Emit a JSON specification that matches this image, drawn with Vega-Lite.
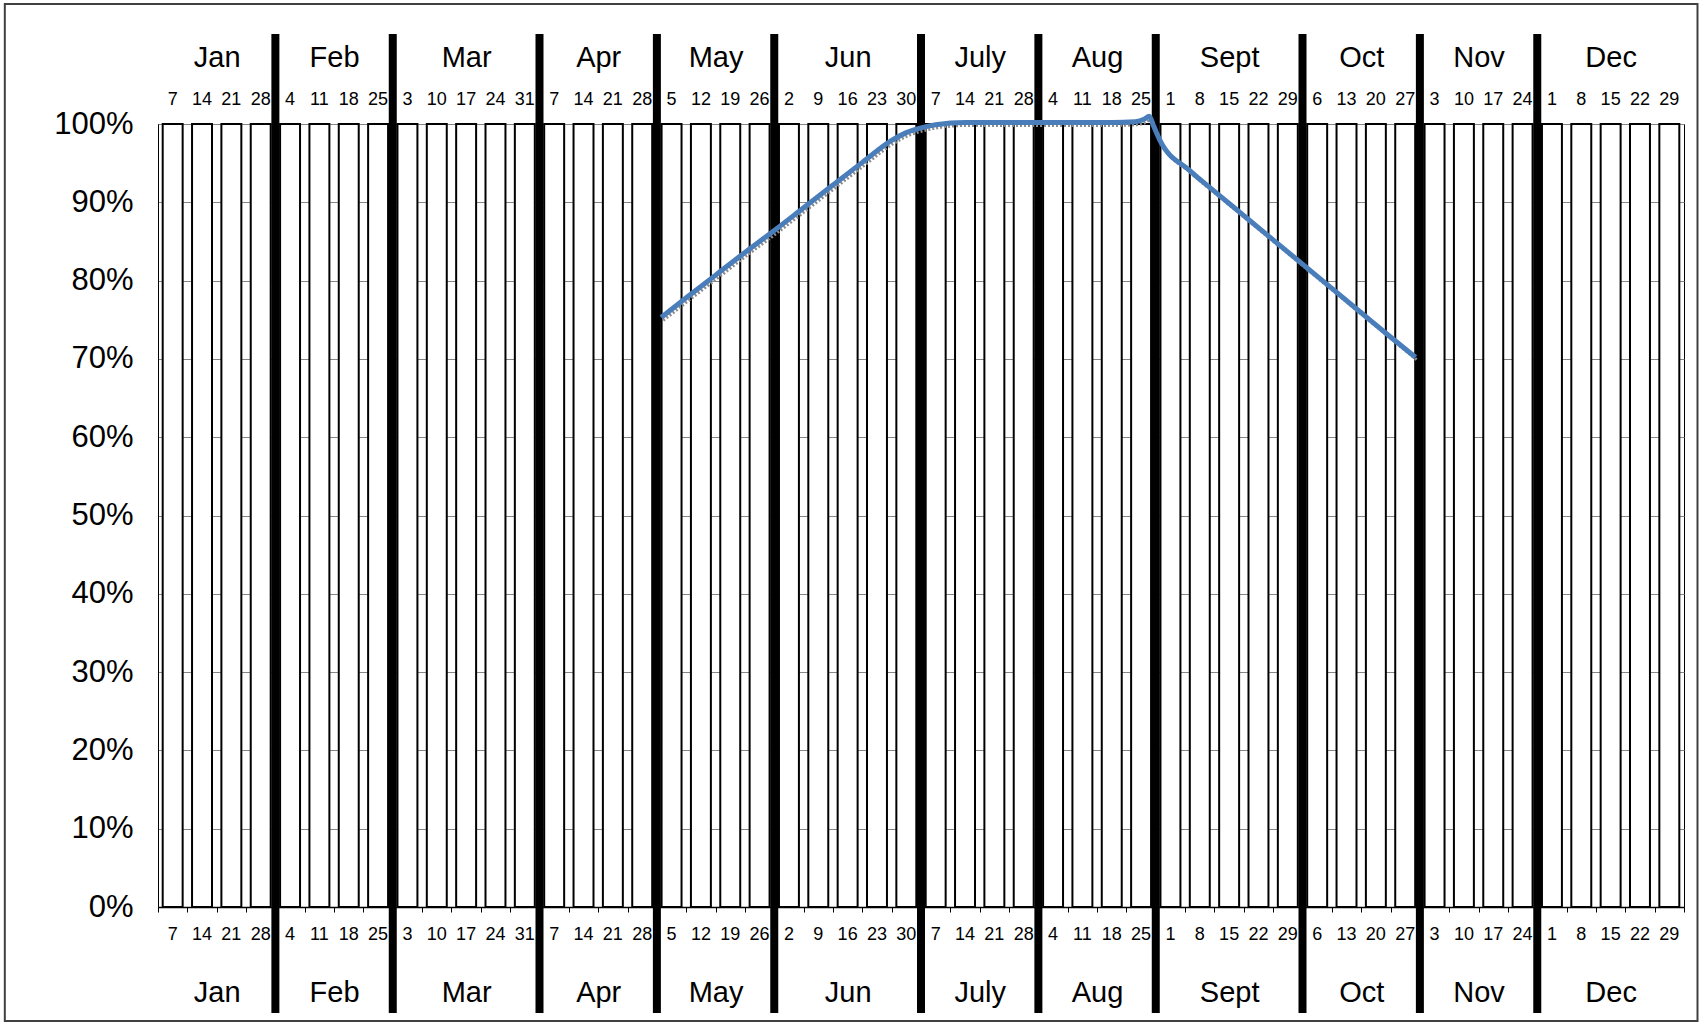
{
  "$schema": "https://vega.github.io/schema/vega-lite/v6.json",
  "width": 1526,
  "height": 783,
  "autosize": {"type": "none"},
  "padding": {"left": 158, "top": 124, "right": 19, "bottom": 118},
  "background": "white",
  "config": {
    "view": {"stroke": "black", "strokeWidth": 1},
    "font": "Liberation Sans",
    "axis": {"labelFont": "Liberation Sans", "labelColor": "black", "labelOverlap": false, "labelFlush": false, "labelBound": false}
  },
  "datasets": {
    "weeks": [
      {"week": "Jan-7", "val": 1}, {"week": "Jan-14", "val": 1}, {"week": "Jan-21", "val": 1}, {"week": "Jan-28", "val": 1},
      {"week": "Feb-4", "val": 1}, {"week": "Feb-11", "val": 1}, {"week": "Feb-18", "val": 1}, {"week": "Feb-25", "val": 1},
      {"week": "Mar-3", "val": 1}, {"week": "Mar-10", "val": 1}, {"week": "Mar-17", "val": 1}, {"week": "Mar-24", "val": 1}, {"week": "Mar-31", "val": 1},
      {"week": "Apr-7", "val": 1}, {"week": "Apr-14", "val": 1}, {"week": "Apr-21", "val": 1}, {"week": "Apr-28", "val": 1},
      {"week": "May-5", "val": 1}, {"week": "May-12", "val": 1}, {"week": "May-19", "val": 1}, {"week": "May-26", "val": 1},
      {"week": "Jun-2", "val": 1}, {"week": "Jun-9", "val": 1}, {"week": "Jun-16", "val": 1}, {"week": "Jun-23", "val": 1}, {"week": "Jun-30", "val": 1},
      {"week": "Jul-7", "val": 1}, {"week": "Jul-14", "val": 1}, {"week": "Jul-21", "val": 1}, {"week": "Jul-28", "val": 1},
      {"week": "Aug-4", "val": 1}, {"week": "Aug-11", "val": 1}, {"week": "Aug-18", "val": 1}, {"week": "Aug-25", "val": 1},
      {"week": "Sep-1", "val": 1}, {"week": "Sep-8", "val": 1}, {"week": "Sep-15", "val": 1}, {"week": "Sep-22", "val": 1}, {"week": "Sep-29", "val": 1},
      {"week": "Oct-6", "val": 1}, {"week": "Oct-13", "val": 1}, {"week": "Oct-20", "val": 1}, {"week": "Oct-27", "val": 1},
      {"week": "Nov-3", "val": 1}, {"week": "Nov-10", "val": 1}, {"week": "Nov-17", "val": 1}, {"week": "Nov-24", "val": 1},
      {"week": "Dec-1", "val": 1}, {"week": "Dec-8", "val": 1}, {"week": "Dec-15", "val": 1}, {"week": "Dec-22", "val": 1}, {"week": "Dec-29", "val": 1}
    ],
    "bounds": [
      {"b": 4}, {"b": 8}, {"b": 13}, {"b": 17}, {"b": 21}, {"b": 26}, {"b": 30}, {"b": 34}, {"b": 39}, {"b": 43}, {"b": 47}
    ],
    "curve": [
      {"w": 17.15, "v": 0.753}, {"w": 18.0, "v": 0.778}, {"w": 19.0, "v": 0.807}, {"w": 20.0, "v": 0.836},
      {"w": 21.0, "v": 0.864}, {"w": 22.0, "v": 0.893}, {"w": 23.0, "v": 0.922}, {"w": 24.0, "v": 0.951},
      {"w": 25.0, "v": 0.979}, {"w": 25.5, "v": 0.989}, {"w": 26.0, "v": 0.995}, {"w": 26.5, "v": 0.999},
      {"w": 27.5, "v": 1.002}, {"w": 28.5, "v": 1.002}, {"w": 29.5, "v": 1.002}, {"w": 30.5, "v": 1.002},
      {"w": 31.5, "v": 1.002}, {"w": 32.5, "v": 1.002}, {"w": 33.3, "v": 1.003}, {"w": 33.6, "v": 1.006},
      {"w": 33.78, "v": 1.010}, {"w": 33.92, "v": 0.998}, {"w": 34.13, "v": 0.980}, {"w": 35.14, "v": 0.941},
      {"w": 36.0, "v": 0.914}, {"w": 37.0, "v": 0.883}, {"w": 38.0, "v": 0.852}, {"w": 39.0, "v": 0.821},
      {"w": 40.0, "v": 0.790}, {"w": 41.0, "v": 0.759}, {"w": 42.0, "v": 0.728}, {"w": 42.85, "v": 0.702}
    ]
  },
  "layer": [
    {
      "data": {"name": "weeks"},
      "mark": {"type": "bar", "fill": "white", "stroke": "black", "strokeWidth": 2},
      "encoding": {
        "x": {
          "field": "week", "type": "ordinal", "sort": null,
          "scale": {"paddingInner": 0.32, "paddingOuter": 0.16},
          "axis": {"orient": "top", "title": null, "labelExpr": "split(datum.label, '-')[1]", "ticks": false, "domain": false, "grid": false, "labelFontSize": 18, "labelPadding": 16, "labelAngle": 0}
        },
        "y": {
          "field": "val", "type": "quantitative", "stack": null,
          "scale": {"domain": [0, 1], "nice": false, "zero": true},
          "axis": {"orient": "left", "title": null, "values": [0, 0.1, 0.2, 0.3, 0.4, 0.5, 0.6, 0.7, 0.8, 0.9, 1], "format": ".0%", "labelFontSize": 31, "labelPadding": 25, "ticks": false, "grid": true, "gridColor": "#868686", "gridWidth": 1, "domain": true, "domainColor": "black", "domainWidth": 1}
        }
      }
    },
    {
      "data": {"name": "weeks"},
      "mark": {"type": "bar", "opacity": 0},
      "encoding": {
        "x": {
          "field": "week", "type": "ordinal", "sort": null,
          "scale": {"paddingInner": 0.32, "paddingOuter": 0.16},
          "axis": {"orient": "bottom", "title": null, "labelExpr": "split(datum.label, '-')[1]", "ticks": false, "domain": false, "grid": false, "labelFontSize": 18, "labelPadding": 18, "labelAngle": 0}
        },
        "y": {
          "field": "val", "type": "quantitative", "stack": null,
          "axis": {"orient": "left", "title": null, "values": [0, 0.1, 0.2, 0.3, 0.4, 0.5, 0.6, 0.7, 0.8, 0.9, 1], "format": ".0%", "labelFontSize": 31, "labelPadding": 25, "ticks": false, "grid": true, "gridColor": "#868686", "gridWidth": 1, "domain": true, "domainColor": "black", "domainWidth": 1}
        }
      }
    },
    {
      "data": {"values": [{"frame": "chart"}]},
      "mark": {"type": "rect", "fill": "transparent", "stroke": "#404040", "strokeWidth": 2},
      "encoding": {
        "x": {"datum": -5.22, "type": "quantitative", "scale": {"domain": [0, 52], "nice": false, "zero": false}, "axis": null},
        "x2": {"datum": 52.46},
        "y": {
          "datum": 1.1533, "type": "quantitative",
          "axis": {"orient": "left", "title": null, "values": [0, 0.1, 0.2, 0.3, 0.4, 0.5, 0.6, 0.7, 0.8, 0.9, 1], "format": ".0%", "labelFontSize": 31, "labelPadding": 25, "ticks": false, "grid": true, "gridColor": "#868686", "gridWidth": 1, "domain": true, "domainColor": "black", "domainWidth": 1}
        },
        "y2": {"datum": -0.1456}
      }
    },
    {
      "data": {"name": "bounds"},
      "mark": {"type": "rule", "color": "black", "strokeWidth": 8},
      "encoding": {
        "x": {
          "field": "b", "type": "quantitative",
          "scale": {"domain": [0, 52], "nice": false, "zero": false},
          "axis": {"orient": "top", "title": null, "values": [2, 6, 10.5, 15, 19, 23.5, 28, 32, 36.5, 41, 45, 49.5], "labelExpr": "['Jan','Feb','Mar','Apr','May','Jun','July','Aug','Sept','Oct','Nov','Dec'][indexof([2, 6, 10.5, 15, 19, 23.5, 28, 32, 36.5, 41, 45, 49.5], datum.value)]", "ticks": false, "domain": false, "grid": false, "labelFontSize": 29, "labelPadding": 52}
        },
        "y": {
          "datum": 1.115, "type": "quantitative",
          "axis": {"orient": "left", "title": null, "values": [0, 0.1, 0.2, 0.3, 0.4, 0.5, 0.6, 0.7, 0.8, 0.9, 1], "format": ".0%", "labelFontSize": 31, "labelPadding": 25, "ticks": false, "grid": true, "gridColor": "#868686", "gridWidth": 1, "domain": true, "domainColor": "black", "domainWidth": 1}
        },
        "y2": {"datum": -0.1354}
      }
    },
    {
      "data": {"name": "curve"},
      "mark": {"type": "line", "interpolate": "monotone", "stroke": "#8c8c8c", "strokeWidth": 3, "strokeDash": [2, 2], "xOffset": 2, "yOffset": 3},
      "encoding": {
        "x": {
          "field": "w", "type": "quantitative",
          "scale": {"domain": [0, 52], "nice": false, "zero": false},
          "axis": {"orient": "bottom", "title": null, "values": [0,1,2,3,4,5,6,7,8,9,10,11,12,13,14,15,16,17,18,19,20,21,22,23,24,25,26,27,28,29,30,31,32,33,34,35,36,37,38,39,40,41,42,43,44,45,46,47,48,49,50,51,52], "labels": false, "ticks": true, "tickSize": 5, "tickColor": "black", "tickWidth": 1, "domain": true, "domainColor": "black", "domainWidth": 1.5, "grid": false}
        },
        "y": {
          "field": "v", "type": "quantitative",
          "axis": {"orient": "left", "title": null, "values": [0, 0.1, 0.2, 0.3, 0.4, 0.5, 0.6, 0.7, 0.8, 0.9, 1], "format": ".0%", "labelFontSize": 31, "labelPadding": 25, "ticks": false, "grid": true, "gridColor": "#868686", "gridWidth": 1, "domain": true, "domainColor": "black", "domainWidth": 1}
        }
      }
    },
    {
      "data": {"name": "curve"},
      "mark": {"type": "line", "interpolate": "monotone", "stroke": "#4A7EBB", "strokeWidth": 5},
      "encoding": {
        "x": {
          "field": "w", "type": "quantitative",
          "scale": {"domain": [0, 52], "nice": false, "zero": false},
          "axis": {"orient": "bottom", "title": null, "values": [2, 6, 10.5, 15, 19, 23.5, 28, 32, 36.5, 41, 45, 49.5], "labelExpr": "['Jan','Feb','Mar','Apr','May','Jun','July','Aug','Sept','Oct','Nov','Dec'][indexof([2, 6, 10.5, 15, 19, 23.5, 28, 32, 36.5, 41, 45, 49.5], datum.value)]", "ticks": false, "domain": false, "grid": false, "labelFontSize": 29, "labelPadding": 71}
        },
        "y": {
          "field": "v", "type": "quantitative",
          "axis": {"orient": "left", "title": null, "values": [0, 0.1, 0.2, 0.3, 0.4, 0.5, 0.6, 0.7, 0.8, 0.9, 1], "format": ".0%", "labelFontSize": 31, "labelPadding": 25, "ticks": false, "grid": true, "gridColor": "#868686", "gridWidth": 1, "domain": true, "domainColor": "black", "domainWidth": 1}
        }
      }
    }
  ],
  "resolve": {"scale": {"x": "independent"}, "axis": {"x": "independent"}}
}
